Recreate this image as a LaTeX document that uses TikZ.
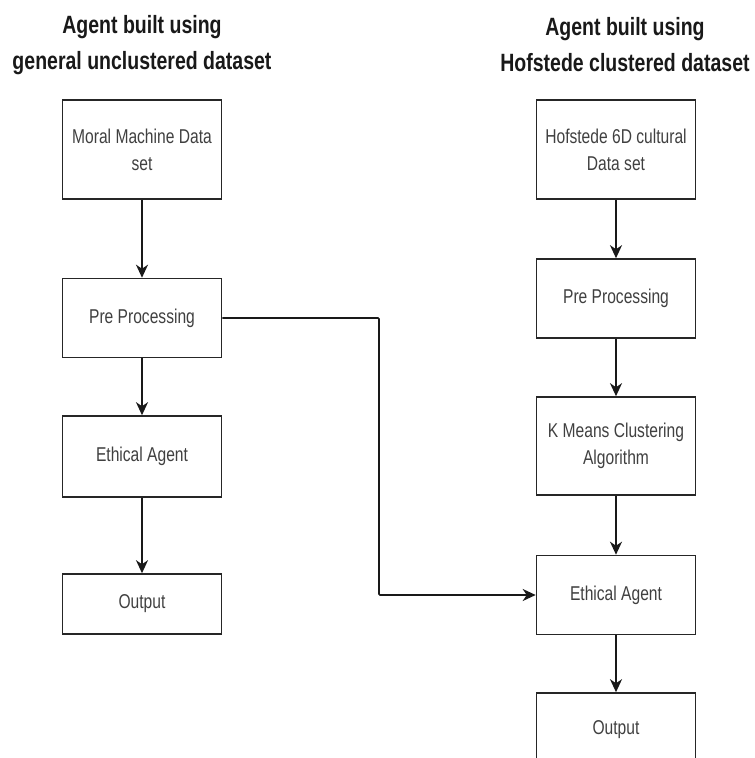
\documentclass[tikz,border=0pt]{standalone}
\usepackage{fontspec}
\setmainfont{Liberation Sans}[FakeStretch=0.78]
\usetikzlibrary{arrows.meta}
\begin{document}
\begin{tikzpicture}[x=1pt,y=-1pt,
  box/.style={draw=black!85, line width=1.6pt, minimum width=159pt, align=center,
    text=black!75, font=\fontsize{20}{27}\selectfont, inner sep=0pt},
  title/.style={align=center, font=\bfseries\fontsize{25}{36}\selectfont, text=black!90},
  arr/.style={-{Stealth[length=13pt,width=12pt,inset=4pt]}, line width=1.6pt, draw=black!90}]
\useasboundingbox (0,0) rectangle (755,758);
% titles
\node[title] (t1) at (142,45) {Agent built using\\general unclustered dataset};
\node[title] (t2) at (625,45) {Agent built using\\Hofstede clustered dataset};
% left column
\node[box, minimum height=99pt] (mm) at (142,149.5) {Moral Machine Data\\set};
\node[box, minimum height=79pt] (ppl) at (142,318) {Pre Processing};
\node[box, minimum height=81pt] (eal) at (142,456.5) {Ethical Agent};
\node[box, minimum height=60pt] (outl) at (142,604) {Output};
% right column
\node[box, minimum height=99pt] (hof) at (616,149.5) {Hofstede 6D cultural\\Data set};
\node[box, minimum height=79pt] (ppr) at (616,298.5) {Pre Processing};
\node[box, minimum height=98pt] (km) at (616,446) {K Means Clustering\\Algorithm};
\node[box, minimum height=79pt] (ear) at (616,595) {Ethical Agent};
\node[box, minimum height=74pt] (outr) at (616,730) {Output};
% connectors
\draw[arr] (mm) -- (ppl);
\draw[arr] (ppl) -- (eal);
\draw[arr] (eal) -- (outl);
\draw[arr] (hof) -- (ppr);
\draw[arr] (ppr) -- (km);
\draw[arr] (km) -- (ear);
\draw[arr] (ear) -- (outr);
\coordinate (bend) at (379,318);
\draw[arr, rounded corners=1pt] (ppl.east) -- (bend) |- (ear.west);
\end{tikzpicture}
\end{document}
